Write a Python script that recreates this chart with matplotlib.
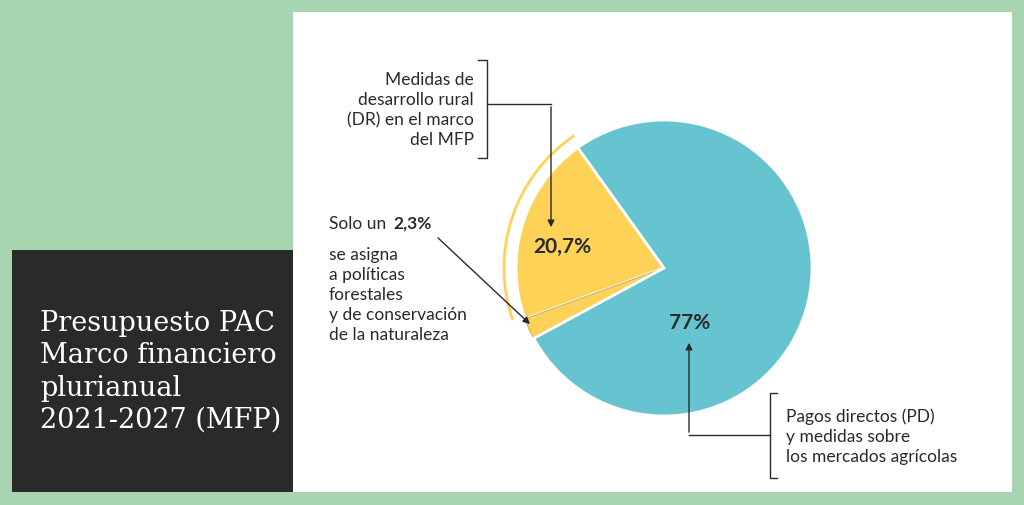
import matplotlib.pyplot as plt
import matplotlib.patches as mpatches

# data
shares = [20.7, 2.3, 77.0]
shareLabels = ['20,7%', '', '77%']
colors = ['#fdd257', '#fdd257', '#66c3d0']

W, H = 1024, 505
fig = plt.figure(figsize=(W / 100, H / 100), dpi=100)
fig.patch.set_facecolor('#a8d5b1')
ax = fig.add_axes([0, 0, 1, 1])
ax.set_xlim(0, W)
ax.set_ylim(0, H)
ax.set_aspect('equal')
ax.axis('off')

def Y(y):  # image row -> axes y
    return H - y

# panels
ax.add_patch(mpatches.Rectangle((293, Y(492)), 719, 480, facecolor='white', edgecolor='none'))
ax.add_patch(mpatches.Rectangle((12, Y(492)), 281, 242, facecolor='#2a2a2a', edgecolor='none'))
ax.text(40, Y(372), 'Presupuesto PAC\nMarco financiero\nplurianual\n2021-2027 (MFP)',
        color='white', fontsize=19.5, family='DejaVu Serif', va='center', ha='left',
        linespacing=1.25)

cx, cy, r = 664, Y(268), 148
wedges, _ = ax.pie(shares, colors=colors, startangle=125.6, counterclock=True,
                   center=(cx, cy), radius=r, explode=[0, 0.09, 0],
                   wedgeprops=dict(edgecolor='white', linewidth=2), frame=True)
wedges[1].set_edgecolor('#c9b36a')
wedges[1].set_linewidth(0.8)
ax.set_xlim(0, W)
ax.set_ylim(0, H)
ax.axis('off')

# thin outer arc
ax.add_patch(mpatches.Arc((cx, cy), 2 * 160, 2 * 160, theta1=124, theta2=199,
                          color='#fdd257', linewidth=2))

ax.text(562, Y(247), shareLabels[0], fontsize=15, fontweight='bold', color='#2a2a2a',
        ha='center', va='center', family='Lato')
ax.text(690, Y(323), shareLabels[2], fontsize=15, fontweight='bold', color='#2a2a2a',
        ha='center', va='center', family='Lato')

txt = dict(fontsize=12.5, color='#2a2a2a', family='Lato')
ax.text(474, Y(110), 'Medidas de\ndesarrollo rural\n(DR) en el marco\ndel MFP', ha='right',
        va='center', linespacing=1.3, **txt)
ax.plot([478, 487, 487, 478], [Y(60), Y(60), Y(158), Y(158)], color='#2a2a2a', lw=1)
ax.plot([487, 551], [Y(104), Y(104)], color='#2a2a2a', lw=1)
ax.annotate('', xy=(551, Y(230)), xytext=(551, Y(104)),
            arrowprops=dict(arrowstyle='-|>', color='#2a2a2a', lw=1, mutation_scale=10))

ax.text(329, Y(224), 'Solo un ', ha='left', va='center', **txt)
ax.text(393, Y(224), '2,3%', ha='left', va='center', fontweight='bold',
        **{k: v for k, v in txt.items()})
ax.text(329, Y(295), 'se asigna\na políticas\nforestales\ny de conservación\nde la naturaleza',
        ha='left', va='center', linespacing=1.3, **txt)
ax.annotate('', xy=(532, Y(326)), xytext=(436, Y(236)),
            arrowprops=dict(arrowstyle='-|>', color='#2a2a2a', lw=1, mutation_scale=10))

ax.text(786, Y(437), 'Pagos directos (PD)\ny medidas sobre\nlos mercados agrícolas',
        ha='left', va='center', linespacing=1.3, **txt)
ax.plot([777, 770, 770, 777], [Y(393), Y(393), Y(478), Y(478)], color='#2a2a2a', lw=1)
ax.plot([689, 770], [Y(435), Y(435)], color='#2a2a2a', lw=1)
ax.annotate('', xy=(689, Y(340)), xytext=(689, Y(435)),
            arrowprops=dict(arrowstyle='-|>', color='#2a2a2a', lw=1, mutation_scale=10))

fig.savefig('out.png', dpi=100, facecolor=fig.get_facecolor())
